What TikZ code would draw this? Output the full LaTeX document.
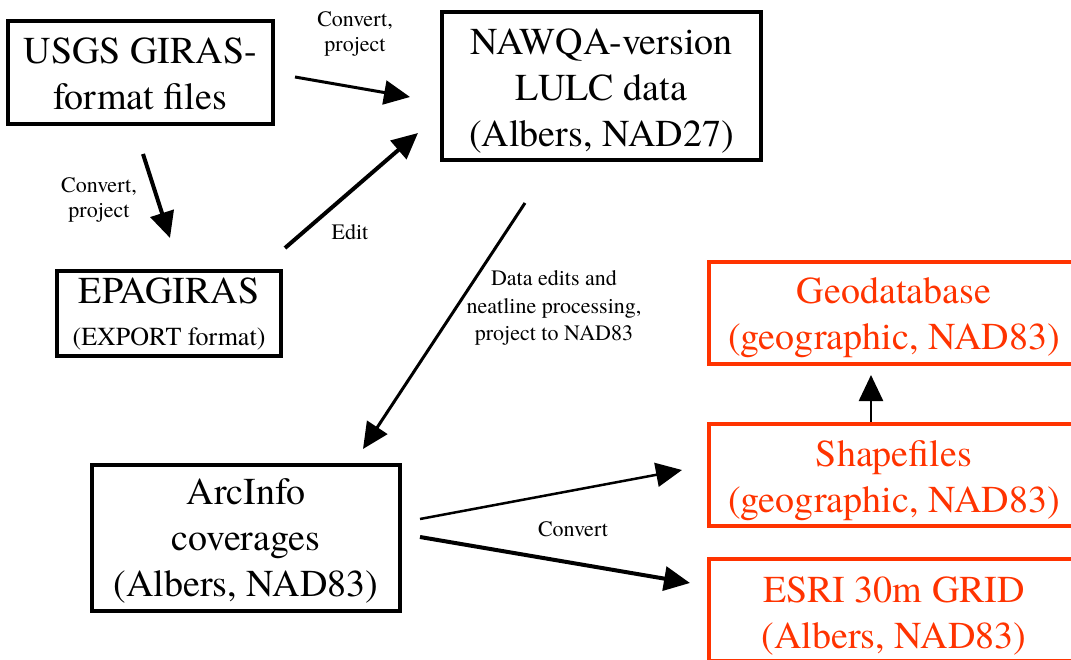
\documentclass[tikz,border=0pt]{standalone}
\usepackage{fontspec}
\setmainfont{TeX Gyre Termes}
\newfontfamily\timesfont{TeX Gyre Termes}
\usepackage{xcolor}
\usepackage{tikz}
\usetikzlibrary{arrows.meta}

\definecolor{gisred}{RGB}{255,51,0}
\newcommand{\boxfont}{\timesfont\fontsize{38}{46}\selectfont}
\newcommand{\subfont}{\timesfont\fontsize{26}{30}\selectfont}
\newcommand{\lblfont}{\timesfont\fontsize{22}{25}\selectfont}
\newcommand{\padtop}[1]{\rule{0pt}{#1pt}}

\begin{document}
\begin{tikzpicture}[x=1pt, y=-1pt,
                    box/.style n args={2}{draw, rectangle,
                    line width=4pt,
                    minimum width=#1pt,
                    minimum height=#2pt,
                    inner sep=0pt, align=center, font=\boxfont},
                    redbox/.style n args={2}{box={#1}{#2},
                    draw=gisred, text=gisred},
                    lbl/.style={align=center, font=\lblfont, inner sep=0pt},
                    arr/.style={line width=#1pt,
                    -{Triangle[length=26pt,width=24pt]}}]
    \useasboundingbox (0,0) rectangle (1071,660);
    \clip (0,0) rectangle (1071,660);

    % boxes
    \node[box={265}{103}](usgs) at (140.5,72.5) {\padtop{29}USGS GIRAS-\\format files};
    \node[box={319}{148}](nawqa) at (601.5,86) {\padtop{36}NAWQA-version\\LULC data\\(Albers, NAD27)};
    \node[box={224}{85}](epa) at (169,313.5) {EPAGIRAS\\[-4pt]{\subfont (EXPORT format)}};
    \node[box={308}{146}](arc) at (246,538) {\padtop{31}ArcInfo\\coverages\\(Albers, NAD83)};
    \node[redbox={370}{102}](geo) at (894,313) {\padtop{36}Geodatabase\\(geographic, NAD83)};
    \node[redbox={370}{102}](shp) at (894,475) {\padtop{37}Shapefiles\\(geographic, NAD83)};
    \node[redbox={370}{102}](grid) at (894,610) {\padtop{37}ESRI 30m GRID\\(Albers, NAD83)};

    % connector ends
    \coordinate (usgs-out) at (295,77);   \coordinate (nawqa-in1) at (410,97);
    \coordinate (usgs-dn) at (143,154);   \coordinate (epa-in) at (170,238);
    \coordinate (epa-out) at (285,248);   \coordinate (nawqa-in2) at (418,133);
    \coordinate (nawqa-out) at (525,203); \coordinate (arc-in) at (363,449);
    \coordinate (arc-out1) at (420,519);  \coordinate (shp-in) at (682,470);
    \coordinate (arc-out2) at (420,537);  \coordinate (grid-in) at (690,583);
    \coordinate (shp-out) at (871,422);   \coordinate (geo-in) at (871,375);

    \draw[arr=3] (usgs-out) -- (nawqa-in1);
    \draw[arr=4] (usgs-dn) -- (epa-in);
    \draw[arr=4] (epa-out) -- (nawqa-in2);
    \draw[arr=3] (nawqa-out) -- (arc-in);
    \draw[arr=2.5] (arc-out1) -- (shp-in);
    \draw[arr=4] (arc-out2) -- (grid-in);
    \draw[arr=2.5] (shp-out) -- (geo-in);

    % labels
    \node[lbl](l1) at (355,34) {Convert,\\project};
    \node[lbl](l2) at (99,200) {Convert,\\project};
    \node[lbl](l3) at (350,232) {Edit};
    \node[lbl, font=\timesfont\fontsize{22}{27.5}\selectfont](l4) at (554,308) {Data edits and\\neatline processing,\\project to NAD83};
    \node[lbl](l5) at (573,529) {Convert};
\end{tikzpicture}
\end{document}
